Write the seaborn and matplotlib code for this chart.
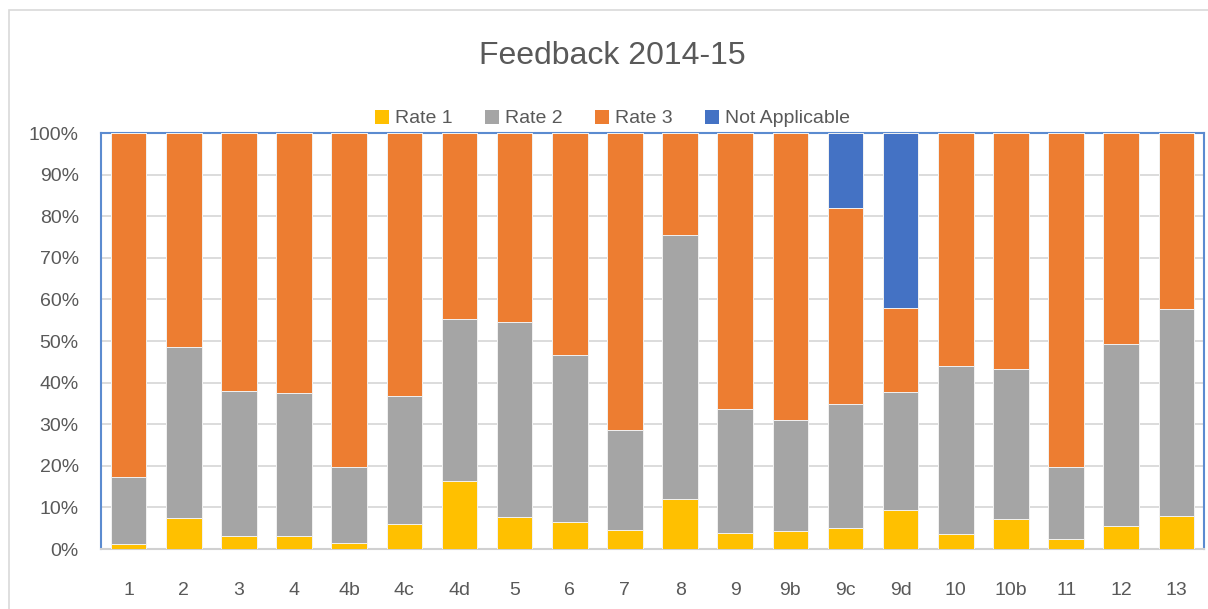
import pandas as pd
import matplotlib
matplotlib.use('Agg')
import matplotlib.pyplot as plt
from matplotlib.patches import Patch, Rectangle
import seaborn as sns

# values, percent of responses per question
questions = ['1', '2', '3', '4', '4b', '4c', '4d', '5', '6', '7', '8',
             '9', '9b', '9c', '9d', '10', '10b', '11', '12', '13']
rate1 = [1.2, 7.4, 3.1, 3.1, 1.4, 5.9, 16.3, 7.8, 6.4, 4.5, 12.0,
         3.9, 4.3, 5.1, 9.4, 3.5, 7.2, 2.5, 5.5, 7.9]
rate2 = [16.1, 41.2, 34.9, 34.4, 18.3, 30.8, 39.0, 46.7, 40.2, 24.2, 63.5,
         29.7, 26.8, 29.7, 28.4, 40.4, 36.1, 17.2, 43.8, 49.7]
rate3 = [82.7, 51.4, 62.0, 62.5, 80.3, 63.3, 44.7, 45.5, 53.4, 71.3, 24.5,
         66.4, 68.9, 47.1, 20.2, 56.1, 56.7, 80.3, 50.7, 42.4]
not_applicable = [0, 0, 0, 0, 0, 0, 0, 0, 0, 0, 0,
                  0, 0, 18.1, 42.0, 0, 0, 0, 0, 0]

series = ['Rate 1', 'Rate 2', 'Rate 3', 'Not Applicable']
colors = ['#FFC000', '#A5A5A5', '#ED7D31', '#4472C4']

df = pd.DataFrame({'question': questions, 'Rate 1': rate1, 'Rate 2': rate2,
                   'Rate 3': rate3, 'Not Applicable': not_applicable})

# cumulative tops so the layers can be drawn over each other
cum = df[series].cumsum(axis=1)

sns.set_style('white')
plt.rcParams['font.family'] = ['Liberation Sans', 'DejaVu Sans']
text_grey = '#595959'

fig = plt.figure(figsize=(12.08, 6.09), dpi=100)
ax = fig.add_axes([101 / 1208, 1 - 549 / 609, (1204 - 101) / 1208, (549 - 133) / 609])

for name, col in reversed(list(zip(series, colors))):
    sns.barplot(x=df['question'], y=cum[name], order=questions, color=col,
                saturation=1, width=0.645, edgecolor='#F2F2F2', linewidth=0.7,
                ax=ax, zorder=3)

ax.set_ylim(0, 100)
ax.set_xlim(-0.5, len(questions) - 0.5)
ax.set_yticks(range(0, 101, 10))
ax.set_yticklabels([f'{v}%' for v in range(0, 101, 10)])
ax.yaxis.grid(True, color='#D9D9D9', linewidth=1.3, zorder=0)
ax.set_axisbelow(True)
ax.set_xlabel('')
ax.set_ylabel('')
ax.tick_params(axis='x', length=0, pad=24, labelsize=14, labelcolor=text_grey)
ax.tick_params(axis='y', length=0, pad=16, labelsize=14, labelcolor=text_grey)

for side in ['left', 'top', 'right']:
    ax.spines[side].set_visible(True)
    ax.spines[side].set_color('#5B8BD0')
    ax.spines[side].set_linewidth(1.5)
ax.spines['bottom'].set_color('#D0D0D0')
ax.spines['bottom'].set_linewidth(1.5)

fig.text(0.507, 1 - 56 / 609, 'Feedback 2014-15', ha='center', va='center',
         fontsize=23, color=text_grey)

handles = [Patch(facecolor=c, edgecolor='none', label=s) for s, c in zip(series, colors)]
fig.legend(handles=handles, loc='center', bbox_to_anchor=(0.507, 1 - 118.5 / 609),
           ncol=4, frameon=False, fontsize=14, labelcolor=text_grey,
           handlelength=0.72, handleheight=0.72, handletextpad=0.31,
           columnspacing=1.65, borderaxespad=0, borderpad=0)

# light chart-area border
fig.patches.append(Rectangle((9 / 1208, -0.1), 1.2, 1.1 - 10 / 609, transform=fig.transFigure,
                             fill=False, edgecolor='#D9D9D9', linewidth=1.2))

fig.savefig('out.png', dpi=100)
